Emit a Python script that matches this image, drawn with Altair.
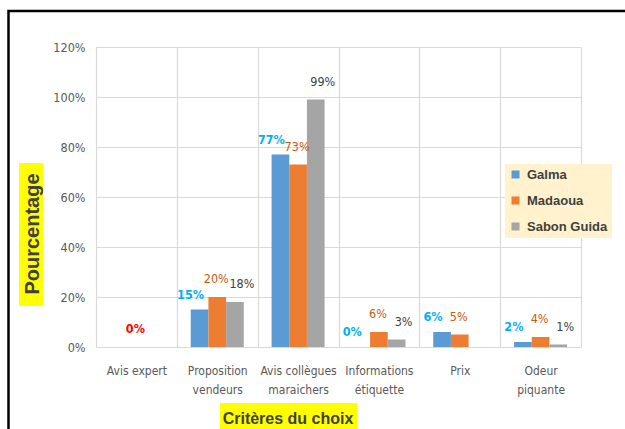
import altair as alt
import pandas as pd

categories = ["Avis expert", "Proposition vendeurs", "Avis collègues maraichers",
              "Informations étiquette", "Prix", "Odeur piquante"]
tick_lines = [["Avis expert"], ["Proposition", "vendeurs"], ["Avis collègues", "maraichers"],
              ["Informations", "étiquette"], ["Prix"], ["Odeur", "piquante"]]
series = ["Galma", "Madaoua", "Sabon Guida"]
galma = [None, 15, 77, 0, 6, 2]
madaoua = [0, 20, 73, 6, 5, 4]
sabon = [None, 18, 99, 3, None, 1]
y_ticks = [0, 20, 40, 60, 80, 100, 120]

bar_colors = ["#5B9BD5", "#ED7D31", "#A5A5A5"]
label_colors = {"Galma": "#00B0F0", "Madaoua": "#C55A11", "Sabon Guida": "#404040"}
label_weight = {"Galma": "bold", "Madaoua": "normal", "Sabon Guida": "normal"}
label_dx = {"Galma": -9, "Madaoua": -1, "Sabon Guida": 7}
label_dy = {"Galma": -15, "Madaoua": -18, "Sabon Guida": -18}

rows = []
for s, vals in zip(series, [galma, madaoua, sabon]):
    for c, v in zip(categories, vals):
        if v is None:
            continue
        red = c == "Avis expert"
        rows.append({"cat": c, "serie": s, "val": v, "lab": f"{v}%",
                     "lc": "#FF0000" if red else label_colors[s],
                     "fw": "bold" if red else label_weight[s]})
df = pd.DataFrame(rows)

NARROW = "DejaVu Sans Condensed, Liberation Sans, sans-serif"
BOLD = "Liberation Sans, Arial, sans-serif"

label_expr = "".join(
    f"datum.label == '{c}' ? {lines!r} : " for c, lines in zip(categories, tick_lines)
) + "datum.label"

x_enc = alt.X("cat:N", sort=categories,
              scale=alt.Scale(paddingInner=0, paddingOuter=0),
              axis=alt.Axis(title=None, labelExpr=label_expr, labelAngle=0,
                            labelFont=NARROW, labelFontSize=12, labelColor="#595959",
                            labelLineHeight=19, labelPadding=18, ticks=False,
                            grid=True, gridColor="#D9D9D9", gridWidth=1.2,
                            tickBand="extent", domainColor="#D9D9D9", domainWidth=1.2))
xo_enc = alt.XOffset("serie:N", sort=series,
                     scale=alt.Scale(paddingInner=0, paddingOuter=0.787))
y_enc = alt.Y("val:Q", scale=alt.Scale(domain=[0, 120], nice=False),
              axis=alt.Axis(title=None, values=y_ticks, labelExpr="datum.value + '%'",
                            labelFont=NARROW, labelFontSize=12.5, labelColor="#595959",
                            labelPadding=11, ticks=False, domain=False,
                            grid=True, gridColor="#D9D9D9", gridWidth=1.2))

bars = alt.Chart(df).mark_bar().encode(
    x=x_enc, xOffset=xo_enc, y=y_enc,
    color=alt.Color("serie:N", sort=series,
                    scale=alt.Scale(domain=series, range=bar_colors),
                    legend=alt.Legend(title=None, orient="none", legendX=409, legendY=117,
                                      fillColor="#FFF2CC", padding=4,
                                      symbolType="square", symbolSize=64,
                                      symbolStrokeWidth=0, labelFont=BOLD,
                                      labelFontWeight="bold", labelFontSize=13,
                                      labelColor="#404040", rowPadding=12,
                                      labelOffset=5)),
)

texts = []
for s in series:
    for w in ["bold", "normal"]:
        texts.append(
            alt.Chart(df).transform_filter((alt.datum.serie == s) & (alt.datum.fw == w))
            .mark_text(font=NARROW, fontSize=12.5, fontWeight=w, baseline="middle",
                       align="center", dy=label_dy[s], dx=label_dx[s])
            .encode(x=alt.X("cat:N", sort=categories),
                    xOffset=alt.XOffset("serie:N", sort=series),
                    y="val:Q", text="lab:N", color=alt.Color("lc:N", scale=None))
        )

one = pd.DataFrame({"k": [0]})
ybox = alt.Chart(one).mark_rect(color="#FFFF00").encode(
    x=alt.value(-77), x2=alt.value(-53), y=alt.value(116), y2=alt.value(259))
ytitle = alt.Chart(one).mark_text(text="Pourcentage", angle=270, font=BOLD, fontWeight="bold",
                                  fontSize=20, color="#404040", align="center",
                                  baseline="middle").encode(x=alt.value(-63), y=alt.value(187))
xbox = alt.Chart(one).mark_rect(color="#FFFF00").encode(
    x=alt.value(124), x2=alt.value(261), y=alt.value(356), y2=alt.value(400))
xtitle = alt.Chart(one).mark_text(text="Critères du choix", font=BOLD, fontWeight="bold",
                                  fontSize=16, color="#404040", align="center",
                                  baseline="alphabetic").encode(x=alt.value(192), y=alt.value(377))
frame = alt.Chart(one).mark_rect(fill=None, stroke="#000000", strokeWidth=2.5).encode(
    x=alt.value(-87.5), x2=alt.value(600), y=alt.value(-36), y2=alt.value(500))

chart = alt.layer(bars, *texts, ybox, ytitle, xbox, xtitle, frame).properties(
    width=485, height=300,
    autosize=alt.AutoSizeParams(type="none"),
    padding={"left": 96, "top": 47, "right": 44, "bottom": 82},
    background="#FFFFFF",
).configure_view(stroke=None)

chart.save("out.html", embed_options={"renderer": "svg", "actions": False})
